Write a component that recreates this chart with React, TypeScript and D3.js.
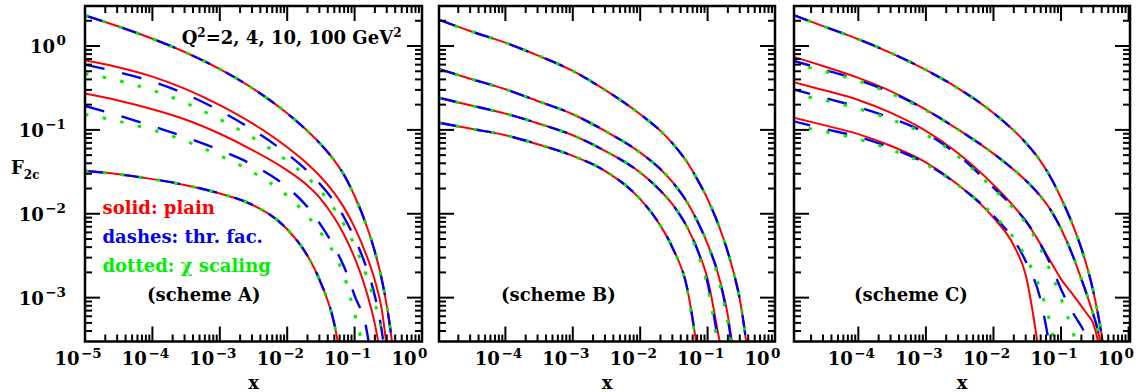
import React from "react";
import * as d3 from "d3";

// Shared x sampling grid for all curves
const X_GRID = [1e-5, 3e-5, 1e-4, 3e-4, 1e-3, 3e-3, 0.01, 0.02, 0.03, 0.05, 0.07, 0.1, 0.15, 0.2, 0.25, 0.3, 0.35, 0.4, 0.45];

const Q2_VALUES = [2, 4, 10, 100];

// ---- scheme A: F2c for Q2 = 2, 4, 10, 100 GeV^2 ----
const A_PLAIN_Q2 = [0.0325, 0.0297, 0.02589, 0.02208, 0.01746, 0.01283, 0.006537, 0.003158, 0.001651, 0.000484, 0.000107];
const A_THR_Q2 = [0.0325, 0.0297, 0.02589, 0.02208, 0.01746, 0.01283, 0.006537, 0.003158, 0.001651, 0.000484, 0.000107];
const A_CHI_Q2 = [0.0325, 0.0297, 0.02589, 0.02208, 0.01746, 0.01283, 0.006537, 0.003158, 0.001651, 0.000484, 0.000107];
const A_PLAIN_Q4 = [0.271, 0.2256, 0.176, 0.1338, 0.0899, 0.05794, 0.0329, 0.0217, 0.01569, 0.008944, 0.005588, 0.002991, 0.001178, 0.000483, 0.000177];
const A_THR_Q4 = [0.193, 0.1499, 0.1109, 0.08245, 0.05745, 0.03869, 0.02069, 0.01204, 0.007776, 0.004002, 0.002321, 0.001058, 0.000421, 0.0000866];
const A_CHI_Q4 = [0.1536, 0.128, 0.1, 0.07434, 0.04936, 0.03181, 0.0164, 0.009422, 0.006284, 0.003316, 0.00181, 0.000643, 0.000181];
const A_PLAIN_Q10 = [0.675, 0.5619, 0.4311, 0.3101, 0.1972, 0.1203, 0.06203, 0.03925, 0.02861, 0.0176, 0.01176, 0.006886, 0.003187, 0.001597, 0.000765, 0.000257];
const A_THR_Q10 = [0.6, 0.4903, 0.3761, 0.2705, 0.1692, 0.1015, 0.05169, 0.03227, 0.02314, 0.01388, 0.009028, 0.005101, 0.002268, 0.001042, 0.000427, 0.000143];
const A_CHI_Q10 = [0.4685, 0.3899, 0.2968, 0.2122, 0.1335, 0.08189, 0.04272, 0.02704, 0.0194, 0.01146, 0.007397, 0.004181, 0.001821, 0.000862, 0.000403, 0.000135];
const A_PLAIN_Q100 = [2.317, 1.73, 1.22, 0.849, 0.531, 0.3168, 0.1576, 0.097, 0.0702, 0.04315, 0.02884, 0.01628, 0.00724, 0.003527, 0.001726, 0.000804, 0.000344, 0.000118];
const A_THR_Q100 = [2.317, 1.73, 1.22, 0.849, 0.531, 0.3168, 0.1576, 0.097, 0.0702, 0.04315, 0.02884, 0.01628, 0.00724, 0.003527, 0.001726, 0.000804, 0.000344, 0.000118];
const A_CHI_Q100 = [2.317, 1.73, 1.22, 0.849, 0.531, 0.3168, 0.1576, 0.097, 0.0702, 0.04315, 0.02884, 0.01628, 0.00724, 0.003527, 0.001726, 0.000804, 0.000344, 0.000118];

// ---- scheme B ----
const B_PLAIN_Q2 = [0.1223, 0.1037, 0.0864, 0.0675, 0.049, 0.0325, 0.01495, 0.0072, 0.00397, 0.00127, 0.000245];
const B_THR_Q2 = [0.1223, 0.1037, 0.0864, 0.0675, 0.049, 0.0325, 0.01495, 0.0072, 0.00397, 0.00127, 0.000245];
const B_CHI_Q2 = [0.1223, 0.1037, 0.0864, 0.0675, 0.049, 0.0325, 0.01495, 0.0072, 0.00397, 0.00122, 0.00023];
const B_PLAIN_Q4 = [0.2426, 0.1966, 0.1564, 0.1201, 0.0864, 0.0562, 0.031, 0.0188, 0.013, 0.00688, 0.0038, 0.00167, 0.00031, 0.0001];
const B_THR_Q4 = [0.2426, 0.1966, 0.1564, 0.1201, 0.0864, 0.0562, 0.031, 0.0188, 0.013, 0.00688, 0.0038, 0.0015, 0.00024];
const B_CHI_Q4 = [0.2426, 0.1966, 0.1564, 0.1201, 0.0864, 0.0562, 0.031, 0.0188, 0.013, 0.00688, 0.0035, 0.00135, 0.0002];
const B_PLAIN_Q10 = [0.537, 0.408, 0.305, 0.2214, 0.1536, 0.0973, 0.0537, 0.034, 0.024, 0.01364, 0.00825, 0.00436, 0.00167, 0.00061, 0.000186];
const B_THR_Q10 = [0.537, 0.408, 0.305, 0.2214, 0.1536, 0.0973, 0.0537, 0.034, 0.024, 0.01364, 0.00825, 0.00436, 0.00167, 0.00055, 0.00016];
const B_CHI_Q10 = [0.537, 0.408, 0.305, 0.2214, 0.1536, 0.0973, 0.0537, 0.034, 0.024, 0.01364, 0.00825, 0.00436, 0.0015, 0.0005, 0.00015];
const B_PLAIN_Q100 = [2.077, 1.509, 1.096, 0.774, 0.504, 0.2994, 0.1536, 0.0973, 0.0694, 0.0408, 0.0259, 0.01495, 0.00688, 0.00347, 0.00183, 0.000964, 0.000443, 0.000184];
const B_THR_Q100 = [2.077, 1.509, 1.096, 0.774, 0.504, 0.2994, 0.1536, 0.0973, 0.0694, 0.0408, 0.0259, 0.01495, 0.00688, 0.00347, 0.00183, 0.000964, 0.000443, 0.000184];
const B_CHI_Q100 = [2.077, 1.509, 1.096, 0.774, 0.504, 0.2994, 0.1536, 0.0973, 0.0694, 0.0408, 0.0259, 0.01495, 0.00688, 0.00347, 0.00183, 0.000964, 0.000443, 0.000184];

// ---- scheme C ----
const C_PLAIN_Q2 = [0.1428, 0.1147, 0.08905, 0.06474, 0.04097, 0.02215, 0.008977, 0.004188, 0.001862, 0.00016];
const C_THR_Q2 = [0.1292, 0.1037, 0.08253, 0.06134, 0.03976, 0.02196, 0.009456, 0.004893, 0.002719, 0.000929, 0.000227];
const C_CHI_Q2 = [0.1136, 0.09634, 0.07756, 0.05832, 0.03871, 0.02187, 0.009645, 0.005168, 0.003052, 0.001216, 0.000475, 0.000114];
const C_PLAIN_Q4 = [0.3796, 0.2995, 0.2276, 0.1608, 0.09734, 0.05262, 0.02211, 0.01227, 0.008177, 0.004316, 0.002697, 0.001665, 0.001088, 0.000793, 0.00062, 0.00049, 0.000308, 0.000158];
const C_THR_Q4 = [0.3105, 0.2438, 0.1871, 0.139, 0.09122, 0.04985, 0.02045, 0.0119, 0.008268, 0.004255, 0.002485, 0.001262, 0.000659, 0.000453, 0.000317, 0.000201];
const C_CHI_Q4 = [0.2683, 0.2275, 0.1788, 0.1337, 0.08768, 0.04844, 0.01987, 0.01142, 0.007767, 0.003798, 0.002039, 0.00098, 0.000386, 0.000183];
const C_PLAIN_Q10 = [0.76, 0.5774, 0.4173, 0.2904, 0.175, 0.1011, 0.05212, 0.03345, 0.02497, 0.01609, 0.01112, 0.006631, 0.003131, 0.001662, 0.000995, 0.000631, 0.00041, 0.00024];
const C_THR_Q10 = [0.681, 0.5275, 0.394, 0.281, 0.1735, 0.1011, 0.05212, 0.03345, 0.02497, 0.01609, 0.01112, 0.006631, 0.003131, 0.001662, 0.000995, 0.000631, 0.00041, 0.00024];
const C_CHI_Q10 = [0.622, 0.504, 0.383, 0.273, 0.171, 0.1011, 0.05212, 0.03345, 0.02497, 0.01609, 0.01112, 0.006631, 0.003131, 0.001662, 0.000995, 0.000631, 0.00041, 0.00024];
const C_PLAIN_Q100 = [2.404, 1.729, 1.205, 0.8292, 0.5185, 0.313, 0.1594, 0.09811, 0.07038, 0.04221, 0.02727, 0.01541, 0.007278, 0.003864, 0.002137, 0.001194, 0.000654, 0.000359, 0.000195];
const C_THR_Q100 = [2.404, 1.729, 1.205, 0.8292, 0.5185, 0.313, 0.1594, 0.09811, 0.07038, 0.04221, 0.02727, 0.01541, 0.007278, 0.003864, 0.002137, 0.001194, 0.000654, 0.000359, 0.000195];
const C_CHI_Q100 = [2.404, 1.729, 1.205, 0.8292, 0.5185, 0.313, 0.1594, 0.09811, 0.07038, 0.04221, 0.02727, 0.01541, 0.007278, 0.003864, 0.002137, 0.001194, 0.000654, 0.000359, 0.000195];

const X_TICK_EXPONENTS_A = [-5, -4, -3, -2, -1, 0];
const X_TICK_EXPONENTS_BC = [-4, -3, -2, -1, 0];
const Y_TICK_EXPONENTS = [-3, -2, -1, 0];

const LEGEND_LINES = ["solid: plain", "dashes: thr. fac.", "dotted: \u03c7 scaling"];

const RED = "#ff0000";
const BLUE = "#0000f0";
const GREEN = "#00ee00";
const FONT = "'DejaVu Serif', serif";

const TOP = 6;
const BOTTOM = 341.5;
const MAJOR = 15;
const MINOR = 7;

const yScale = d3.scaleLog().domain([3e-4, 3]).range([BOTTOM, TOP]);

type PanelCfg = {
  id: string;
  left: number;
  right: number;
  xMin: number;
  xMax: number;
  labels: number[];
  schemeX: number;
  plain: number[][];
  thr: number[][];
  chi: number[][];
};

const PANELS: PanelCfg[] = [
  {
    id: "A", left: 85, right: 422, xMin: 1e-5, xMax: 1, labels: X_TICK_EXPONENTS_A, schemeX: 147,
    plain: [A_PLAIN_Q2, A_PLAIN_Q4, A_PLAIN_Q10, A_PLAIN_Q100],
    thr: [A_THR_Q2, A_THR_Q4, A_THR_Q10, A_THR_Q100],
    chi: [A_CHI_Q2, A_CHI_Q4, A_CHI_Q10, A_CHI_Q100],
  },
  {
    id: "B", left: 439, right: 775, xMin: Math.pow(10, -4.985), xMax: 1, labels: X_TICK_EXPONENTS_BC, schemeX: 501,
    plain: [B_PLAIN_Q2, B_PLAIN_Q4, B_PLAIN_Q10, B_PLAIN_Q100],
    thr: [B_THR_Q2, B_THR_Q4, B_THR_Q10, B_THR_Q100],
    chi: [B_CHI_Q2, B_CHI_Q4, B_CHI_Q10, B_CHI_Q100],
  },
  {
    id: "C", left: 794, right: 1130, xMin: Math.pow(10, -4.952), xMax: Math.pow(10, 0.0207), labels: X_TICK_EXPONENTS_BC, schemeX: 854,
    plain: [C_PLAIN_Q2, C_PLAIN_Q4, C_PLAIN_Q10, C_PLAIN_Q100],
    thr: [C_THR_Q2, C_THR_Q4, C_THR_Q10, C_THR_Q100],
    chi: [C_CHI_Q2, C_CHI_Q4, C_CHI_Q10, C_CHI_Q100],
  },
];

function expText(d: number) {
  return d === 0 ? "0" : "\u2212" + String(-d);
}

function Panel({ p }: { p: PanelCfg }) {
  const x = d3.scaleLog().domain([p.xMin, p.xMax]).range([p.left, p.right]);
  const path = (vals: number[]) =>
    d3
      .line<number>()
      .x((_, i) => x(X_GRID[i]))
      .y((d) => yScale(d))
      .curve(d3.curveMonotoneX)(vals) || "";

  const xTicks: { v: number; major: boolean }[] = [];
  for (let d = -5; d <= 0; d++) {
    for (let k = 1; k <= 9; k++) {
      const v = k * Math.pow(10, d);
      if (v >= p.xMin * 1.0001 && v <= p.xMax * 0.9999) xTicks.push({ v, major: k === 1 });
    }
  }
  const yTicks: { v: number; major: boolean }[] = [];
  for (let d = -4; d <= 0; d++) {
    for (let k = 1; k <= 9; k++) {
      const v = k * Math.pow(10, d);
      if (v > 3e-4 * 1.0001 && v < 3 * 0.9999) yTicks.push({ v, major: k === 1 });
    }
  }
  const clipId = "clip" + p.id;
  const cx = (p.left + p.right) / 2;

  return (
    <g>
      <defs>
        <clipPath id={clipId}>
          <rect x={p.left} y={TOP} width={p.right - p.left} height={BOTTOM - TOP} />
        </clipPath>
      </defs>
      <g clipPath={`url(#${clipId})`} fill="none">
        {p.plain.map((vals, i) => (
          <path key={"r" + Q2_VALUES[i]} d={path(vals)} stroke={RED} strokeWidth={2} />
        ))}
        {p.thr.map((vals, i) => (
          <path key={"b" + Q2_VALUES[i]} d={path(vals)} stroke={BLUE} strokeWidth={2.4} strokeDasharray="20 18" />
        ))}
        {p.chi.map((vals, i) => (
          <path key={"g" + Q2_VALUES[i]} d={path(vals)} stroke={GREEN} strokeWidth={3} strokeDasharray="3.5 14.5" />
        ))}
      </g>
      <g stroke="#000" strokeWidth={2}>
        {xTicks.map((t, i) => {
          const px = x(t.v);
          const len = t.major ? MAJOR : MINOR;
          return (
            <g key={"xt" + i}>
              <line x1={px} x2={px} y1={BOTTOM} y2={BOTTOM - len} />
              <line x1={px} x2={px} y1={TOP} y2={TOP + len} />
            </g>
          );
        })}
        {yTicks.map((t, i) => {
          const py = yScale(t.v);
          const len = t.major ? MAJOR : MINOR;
          return (
            <g key={"yt" + i}>
              <line x1={p.left} x2={p.left + len} y1={py} y2={py} />
              <line x1={p.right} x2={p.right - len} y1={py} y2={py} />
            </g>
          );
        })}
        <rect x={p.left} y={TOP} width={p.right - p.left} height={BOTTOM - TOP} fill="none" strokeWidth={2.5} />
      </g>
      <g fontFamily={FONT} fontWeight="bold" fill="#000">
        {p.labels.map((d) => {
          const px = x(Math.pow(10, d));
          return (
            <g key={"xl" + d}>
              <text x={px - 5.5} y={365} fontSize={18} textAnchor="end">10</text>
              <text x={px - 4} y={357.5} fontSize={13.5}>{expText(d)}</text>
            </g>
          );
        })}
        <text x={cx} y={389} fontSize={18} textAnchor="middle">x</text>
        <text x={p.schemeX} y={301} fontSize={18}>(scheme {p.id})</text>
      </g>
    </g>
  );
}

export default function App() {
  return (
    <svg
      width={1139}
      height={392}
      style={{ position: "absolute", left: 0, top: 0, background: "#fff" }}
    >
      {PANELS.map((p) => (
        <Panel key={p.id} p={p} />
      ))}
      <g fontFamily={FONT} fontWeight="bold">
        {Y_TICK_EXPONENTS.map((d) => (
          <text key={"yl" + d} x={66} y={yScale(Math.pow(10, d)) + 7} fontSize={18} textAnchor="end">
            10
            <tspan dx={1.5} dy={-8} fontSize={13.5}>{expText(d)}</tspan>
          </text>
        ))}
        <text x={11} y={174} fontSize={18}>
          F<tspan dy={5} fontSize={12}>2c</tspan>
        </text>
        <text x={401.5} y={44} fontSize={18} textAnchor="end">
          Q<tspan dy={-7} fontSize={12}>2</tspan>
          <tspan dy={7}>=2, 4, 10, 100 GeV</tspan>
          <tspan dy={-7} fontSize={12}>2</tspan>
        </text>
        <text x={102.5} y={214} fontSize={18} fill={RED}>{LEGEND_LINES[0]}</text>
        <text x={102.5} y={243} fontSize={18} fill={BLUE}>{LEGEND_LINES[1]}</text>
        <text x={102.5} y={272} fontSize={18} fill={GREEN}>{LEGEND_LINES[2]}</text>
      </g>
    </svg>
  );
}
